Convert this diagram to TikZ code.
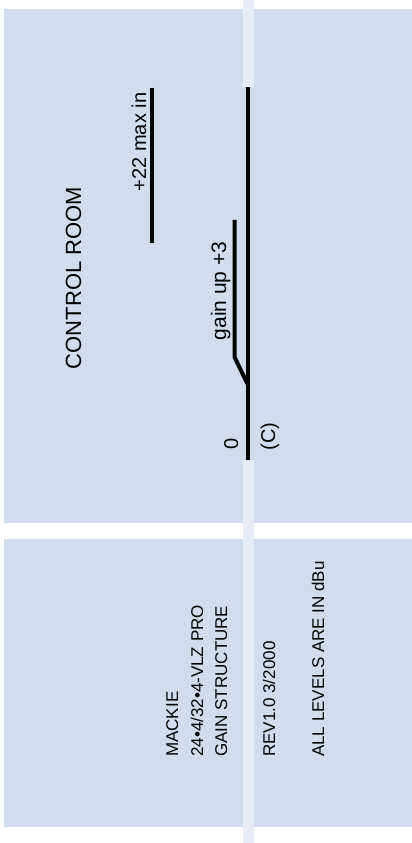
\documentclass[tikz,border=0pt]{standalone}
\usepackage{fontspec}
\setmainfont{Liberation Sans}
\definecolor{panel}{RGB}{209,220,238}
\definecolor{stripe}{RGB}{232,236,246}
\begin{document}
\begin{tikzpicture}[x=1pt,y=1pt,
  lbl/.style={inner sep=0pt, rotate=90},
  fs/.style={font=\fontsize{#1}{#1}\selectfont},
  heavy/.style={line width=4pt, line cap=butt, line join=miter}]
\useasboundingbox (0,0) rectangle (412,843);
\fill[white] (0,0) rectangle (412,843);
% panels
\fill[panel] (4,320) rectangle (412,834);
\fill[panel] (4,16) rectangle (412,304);
% light stripe
\fill[stripe] (243,756) rectangle (254,843);
\fill[stripe] (243,0) rectangle (254,383);
% lines
\coordinate (mtop) at (248,756);
\coordinate (mbot) at (248,383);
\coordinate (junc) at (248,458);
\coordinate (kink) at (234.5,486);
\coordinate (btop) at (234.5,623);
\coordinate (xtop) at (152,755);
\coordinate (xbot) at (152,600);
\draw[heavy] (mtop) -- (mbot);
\draw[heavy] (junc) -- (kink) -- (btop);
\draw[heavy] (xtop) -- (xbot);
% texts top panel
\node[lbl, fs=22, anchor=base] (title) at (81,565) {CONTROL ROOM};
\node[lbl, fs=20, anchor=base] (maxin) at (146,701) {+22 max in};
\node[lbl, fs=21, anchor=base] (gain) at (226,552) {gain up +3};
\node[lbl, fs=20, anchor=base] (zero) at (238,399) {0};
\node[lbl, fs=20, anchor=base] (cc) at (275,406.5) {(C)};
% texts bottom panel
\node[lbl, fs=17, anchor=base west] (mackie) at (178,86) {MACKIE};
\node[lbl, fs=17, anchor=base west] (model) at (203,86) {24•4/32•4-VLZ PRO};
\node[lbl, fs=17, anchor=base west] (gs) at (227,86) {GAIN STRUCTURE};
\node[lbl, fs=17, anchor=base west] (rev) at (275,86) {REV1.0 3/2000};
\node[lbl, fs=17, anchor=base west] (all) at (324,86) {ALL LEVELS ARE IN dBu};
\end{tikzpicture}
\end{document}
